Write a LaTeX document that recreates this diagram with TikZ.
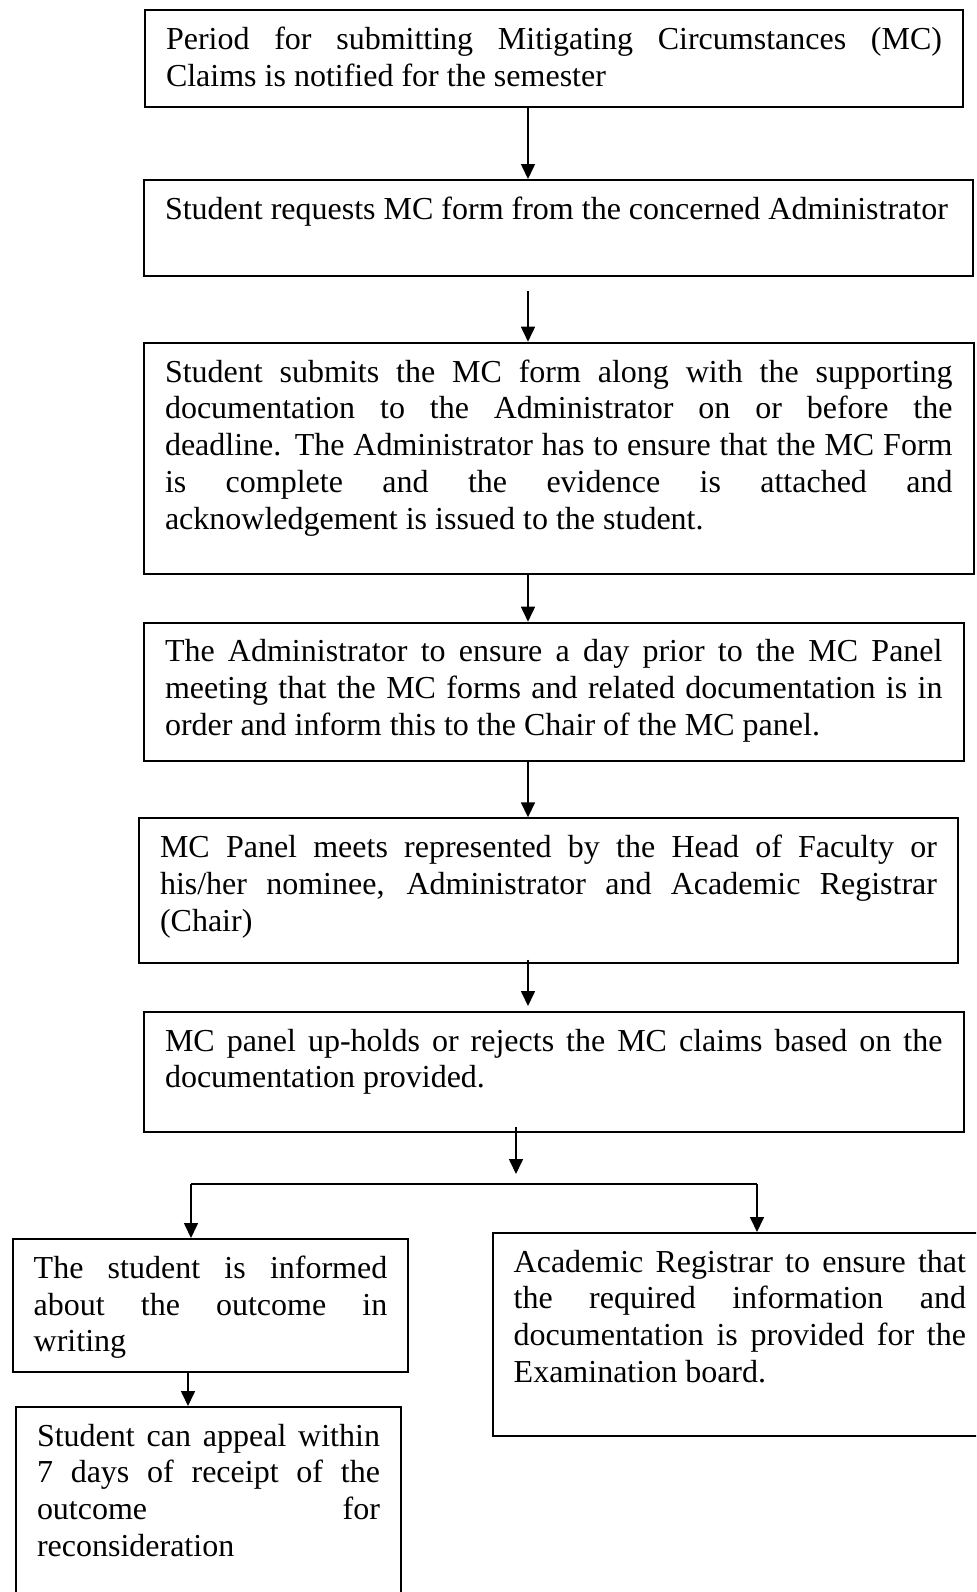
\documentclass[tikz,border=0pt]{standalone}
\usepackage{fontspec}
\setmainfont{Liberation Serif}
\usetikzlibrary{arrows.meta}
\hyphenpenalty=10000
\exhyphenpenalty=10000
\tolerance=10000
\hbadness=10000

\tikzset{
  mcbox/.style={draw, line width=1pt, anchor=north west, align=justify,
    inner xsep=10.5pt, inner ysep=8.5pt,
    font=\fontsize{16}{18.35}\selectfont},
  arr/.style={-{Triangle[length=7.5pt,width=7pt]}, line width=0.8pt}
}

\begin{document}
\begin{tikzpicture}[x=0.5pt,y=-0.5pt]
  \useasboundingbox (0,0) rectangle (976,1592);
  \clip (0,0) rectangle (976,1592);

  % Main column
  \node[mcbox, text width=388pt, text depth=19.85pt] (notify) at (144,9.3)
    {Period for submitting Mitigating Circumstances (MC)\linebreak
     Claims is notified for the semester};
  \node[mcbox, text width=393.25pt, text depth=19.75pt] (request) at (143,179)
    {Student requests MC form from the concerned Administrator};
  \node[mcbox, text width=393.75pt, text depth=87.3pt] (submit) at (143,341.7)
    {Student submits the MC form along with the supporting\linebreak
     documentation to the Administrator on or before the\linebreak
     deadline. The Administrator has to ensure that the MC Form\linebreak
     is complete and the evidence is attached and\linebreak
     acknowledgement is issued to the student.};
  \node[mcbox, text width=388.75pt, text depth=40.8pt] (check) at (143,621.7)
    {The Administrator to ensure a day prior to the MC Panel\linebreak
     meeting that the MC forms and related documentation is in\linebreak
     order and inform this to the Chair of the MC panel.};
  \node[mcbox, text width=388.5pt, text depth=43.85pt] (panel) at (138,817.3)
    {MC Panel meets represented by the Head of Faculty or\linebreak
     his/her nominee, Administrator and Academic Registrar\linebreak
     (Chair)};
  \node[mcbox, text width=388.75pt, text depth=31.75pt] (decide) at (143,1011)
    {MC panel up-holds or rejects the MC claims based on the\linebreak
     documentation provided.};

  % Outcome branches
  \node[mcbox, text width=176.8pt, text depth=38pt] (inform) at (11.7,1238)
    {The student is informed\linebreak
     about the outcome in\linebreak
     writing};
  \node[mcbox, text width=171.5pt, text depth=79pt] (appeal) at (15,1406)
    {Student can appeal within\linebreak
     7 days of receipt of the\linebreak
     outcome for\linebreak
     reconsideration};
  \node[mcbox, text width=226.15pt, text depth=73.15pt] (board) at (491.7,1232)
    {Academic Registrar to ensure that\linebreak
     the required information and\linebreak
     documentation is provided for the\linebreak
     Examination board.};

  \coordinate (split) at (516,1184);
  \coordinate (splitL) at (191,1184);
  \coordinate (splitR) at (757,1184);

  % Arrows
  \draw[arr] (528,0 |- notify.south) -- (528,0 |- request.north);
  \draw[arr, shorten <=7pt] (528,0 |- request.south) -- (528,0 |- submit.north);
  \draw[arr] (528,0 |- submit.south) -- (528,0 |- check.north);
  \draw[arr] (528,0 |- check.south) -- (528,0 |- panel.north);
  \draw[arr, shorten <=-2pt, shorten >=2.5pt] (528,0 |- panel.south) -- (528,0 |- decide.north);
  \draw[arr, shorten <=-3pt, shorten >=5pt] (decide.south -| split) -- (split);
  \draw[line width=0.8pt] (splitL) -- (splitR);
  \draw[arr] (splitL) -- (splitL |- inform.north);
  \draw[arr] (splitR) -- (splitR |- board.north);
  \draw[arr] (188,0 |- inform.south) -- (188,0 |- appeal.north);
\end{tikzpicture}
\end{document}
